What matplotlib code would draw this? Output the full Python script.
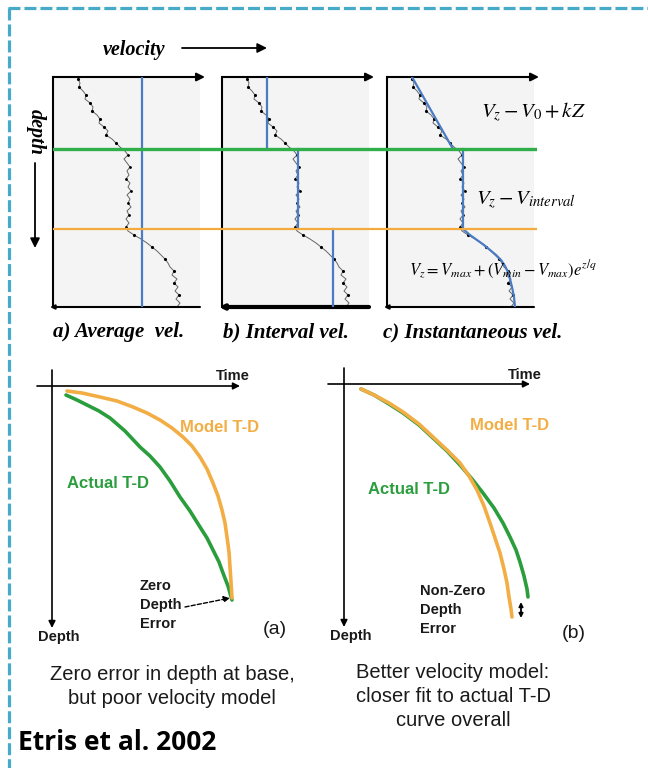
import matplotlib
matplotlib.use('Agg')
import matplotlib.pyplot as plt

plt.rcParams['lines.scale_dashes'] = False
plt.rcParams['mathtext.fontset'] = 'stix'

W, H = 648, 768

# ---------------- data: top panels (depth 0 = top .. 230 = base, velocity in panel units) ----
log_depth = [2, 6, 10, 14, 18, 22, 26, 30, 34, 38, 42, 46, 50, 54, 58, 62, 66, 70,
             74, 78, 82, 86, 90, 94, 98, 102, 106, 110, 114, 118, 122, 126, 130, 134, 138, 142, 146, 150,
             154, 158, 162, 166, 170, 174, 178, 182, 186, 190, 194, 198, 202, 206, 210, 214, 218, 222, 226, 230]
log_vel = [25, 27, 26, 30, 33, 32, 37, 40, 39, 44, 47, 46, 51, 55, 53, 59, 63, 67,
           72, 75, 71, 74, 77, 74, 76, 73, 77, 75, 78, 74, 77, 75, 78, 74, 76, 73, 76, 73,
           75, 81, 88, 94, 99, 104, 108, 112, 115, 117, 121, 119, 124, 121, 125, 122, 126, 123, 127, 124]
green_depth = 72
orange_depth = 152
base_depth = 230
avg_vel = 89
interval_vel = [45, 76, 111]
layer_tops = [0, 72, 152]
layer_bases = [72, 152, 230]
inst_lin_depth = [0, 72]
inst_lin_vel = [25, 66]
inst_const_vel = 76
inst_exp_depth = [152, 158, 163, 168, 173, 178, 183, 189, 195, 202, 210, 220, 230]
inst_exp_vel = [76, 83, 90, 97, 103, 109, 114, 118, 121, 123, 125, 127, 128]
panel_labels = ['a) Average  vel.', 'b) Interval vel.', 'c) Instantaneous vel.']
equations = [r'$V_z - V_0 + kZ$', r'$V_z - V_{interval}$',
             r'$V_z = V_{max} + \left(V_{min} - V_{max}\right)e^{z/q}$']

# ---------------- data: bottom time-depth charts (time right, depth down) ----------------
a_model_t = [15, 30, 48, 65, 81, 95, 108, 120, 131, 140, 148, 155, 161, 166, 170, 173, 175, 177, 178, 179, 180]
a_model_d = [5, 7, 11, 15, 21, 27, 34, 42, 51, 60, 71, 83, 97, 110, 124, 137, 151, 166, 181, 196, 212]
a_actual_t = [14, 25, 35, 47, 58, 73, 88, 98, 108, 118, 128, 138, 148, 155, 161, 167, 171, 176, 180]
a_actual_d = [9, 14, 19, 25, 32, 45, 61, 70, 81, 95, 111, 125, 141, 152, 164, 176, 187, 200, 214]
b_model_t = [17, 30, 45, 59, 75, 89, 103, 116, 125, 133, 140, 146, 151, 156, 160, 163, 165, 167, 168]
b_model_d = [5, 11, 19, 28, 40, 53, 66, 79, 92, 106, 122, 139, 154, 169, 185, 199, 213, 225, 233]
b_actual_t = [17, 30, 45, 59, 75, 89, 103, 116, 128, 139, 150, 159, 166, 172, 176, 180, 183, 184]
b_actual_d = [5, 11, 20, 29, 41, 54, 67, 81, 95, 109, 124, 139, 153, 166, 178, 192, 205, 213]
b_error_t = 177
b_error_d = [218, 234]

BLUE = '#4a7cc3'
GREEN = '#2fae4a'
ORANGE = '#f4aa3c'
CGREEN = '#2a9d3d'
CORANGE = '#f2ae45'
TEAL = '#45abc9'

fig = plt.figure(figsize=(W / 100, H / 100), dpi=100)


def add_ax(x0, y0, x1, y1, **kw):
    return fig.add_axes([x0 / W, 1 - y1 / H, (x1 - x0) / W, (y1 - y0) / H], **kw)


def ftext(x, y, s, **kw):
    fig.text(x / W, 1 - y / H, s, **kw)


# ---------------- background + dashed border ----------------
bg = add_ax(0, 0, W, H)
bg.set_xlim(0, W)
bg.set_ylim(H, 0)
bg.axis('off')
bg.plot([8, W], [8, 8], color=TEAL, lw=2.3, dashes=(8.6, 2.9), solid_capstyle='butt')
bg.plot([9, 9], [8, H], color=TEAL, lw=2.3, dashes=(8.6, 2.9))

# ---------------- top panels ----------------
lefts = [53, 222, 387]
PW = 147
serif = 'Liberation Serif'
for i, left in enumerate(lefts):
    ax = add_ax(left, 77, left + PW, 307)
    ax.set_xlim(0, PW)
    ax.set_ylim(base_depth, 0)
    ax.set_facecolor('#f4f4f4')
    for s in ax.spines.values():
        s.set_visible(False)
    ax.set_xticks([])
    ax.set_yticks([])
    ax.plot([0, 0], [0, base_depth], color='k', lw=1.5, clip_on=False)
    ax.annotate('', xy=(PW + 5, 0), xytext=(0, 0), annotation_clip=False,
                arrowprops=dict(arrowstyle='-|>', color='k', lw=1.5, mutation_scale=12,
                                shrinkA=0, shrinkB=0))
    ax.annotate('', xy=(-3, base_depth), xytext=(PW, base_depth), annotation_clip=False,
                arrowprops=dict(arrowstyle='-|>', color='k', lw=3.0 if i == 1 else 1.5,
                                mutation_scale=6, shrinkA=0, shrinkB=0))
    # well log
    ax.plot(log_vel, log_depth, color='#666666', lw=0.7, zorder=2)
    ax.plot(log_vel[:18:2], log_depth[:18:2], 'k.', ms=2.5, zorder=3)
    ax.plot(log_vel[19:38:3], log_depth[19:38:3], 'k.', ms=2, zorder=3)
    ax.plot(log_vel[39::3], log_depth[39::3], 'k.', ms=2.5, zorder=3)
    if i == 0:
        ax.plot([avg_vel, avg_vel], [0, base_depth], color=BLUE, lw=1.6, zorder=4)
    elif i == 1:
        for v, t, b in zip(interval_vel, layer_tops, layer_bases):
            ax.plot([v, v], [t, b], color=BLUE, lw=1.6, zorder=4)
    else:
        ax.plot(inst_lin_vel, inst_lin_depth, color=BLUE, lw=1.6, zorder=4)
        ax.plot([inst_const_vel, inst_const_vel], [green_depth, orange_depth], color=BLUE, lw=1.6, zorder=4)
        ax.plot(inst_exp_vel, inst_exp_depth, color=BLUE, lw=1.6, zorder=4)

ov = add_ax(53, 77, 537, 307)
ov.set_xlim(0, 1)
ov.set_ylim(base_depth, 0)
ov.axis('off')
ov.axhline(green_depth, color=GREEN, lw=2.4)
ov.axhline(orange_depth, color=ORANGE, lw=1.6)

# captions for top panels
cap_x = [53, 223, 383]
for x, s in zip(cap_x, panel_labels):
    ftext(x, 332, s, family=serif, style='italic', weight='bold', fontsize=15, ha='left', va='center')

ftext(134, 50, 'velocity', family=serif, style='italic', weight='bold', fontsize=14.5, ha='center', va='center')
bg.annotate('', xy=(267, 48), xytext=(182, 48),
            arrowprops=dict(arrowstyle='-|>', color='k', lw=1.3, mutation_scale=14, shrinkA=0, shrinkB=0))
ftext(36, 132, 'depth', family=serif, style='italic', weight='bold', fontsize=14.5, ha='center', va='center',
      rotation=-90)
bg.annotate('', xy=(35, 248), xytext=(35, 163),
            arrowprops=dict(arrowstyle='-|>', color='k', lw=1.3, mutation_scale=14, shrinkA=0, shrinkB=0))

ftext(533, 112, equations[0], fontsize=15, ha='center', va='center')
ftext(526, 200, equations[1], fontsize=15, ha='center', va='center')
ftext(503, 270, equations[2], fontsize=12, ha='center', va='center')

# ---------------- bottom charts ----------------
sans = 'Liberation Sans'


def td_chart(box, origin, t_axis, d_axis, model, actual):
    x0, y0, x1, y1 = box
    ox, oy = origin
    ax = add_ax(x0, y0, x1, y1)
    ax.set_xlim(x0 - ox, x1 - ox)
    ax.set_ylim(y1 - oy, y0 - oy)
    ax.axis('off')
    ax.annotate('', xy=(t_axis[1], 0), xytext=(t_axis[0], 0),
                arrowprops=dict(arrowstyle='-|>', color='k', lw=1.2, mutation_scale=10, shrinkA=0, shrinkB=0))
    ax.annotate('', xy=(0, d_axis[1]), xytext=(0, d_axis[0]),
                arrowprops=dict(arrowstyle='-|>', color='k', lw=1.2, mutation_scale=10, shrinkA=0, shrinkB=0))
    ax.plot(model[0], model[1], color=CORANGE, lw=2.6, solid_capstyle='round', zorder=3)
    ax.plot(actual[0], actual[1], color=CGREEN, lw=2.6, solid_capstyle='round', zorder=2)
    return ax


axa = td_chart((20, 355, 310, 650), (52, 386), (-15, 188), (-16, 242),
               (a_model_t, a_model_d), (a_actual_t, a_actual_d))
axa.annotate('', xy=(178, 212), xytext=(133, 221),
             arrowprops=dict(arrowstyle='-|>', color='k', lw=1.0, linestyle=(0, (3, 1.5)),
                             mutation_scale=9, shrinkA=0, shrinkB=0))

axb = td_chart((320, 355, 610, 650), (344, 384), (-16, 186), (-16, 243),
               (b_model_t, b_model_d), (b_actual_t, b_actual_d))
axb.annotate('', xy=(b_error_t, b_error_d[1]), xytext=(b_error_t, b_error_d[0]),
             arrowprops=dict(arrowstyle='<|-|>', color='k', lw=1.3, mutation_scale=6, shrinkA=0, shrinkB=0))

dark = '#1a1a1a'
# left chart labels
ftext(233, 376, 'Time', family=sans, weight='bold', fontsize=10.5, color=dark, ha='center', va='center')
ftext(59, 637, 'Depth', family=sans, weight='bold', fontsize=10.5, color=dark, ha='center', va='center')
ftext(180, 427, 'Model T-D', family=sans, weight='bold', fontsize=12, color=CORANGE, ha='left', va='center')
ftext(67, 483, 'Actual T-D', family=sans, weight='bold', fontsize=12, color=CGREEN, ha='left', va='center')
for y, s in zip([586, 605, 624], ['Zero', 'Depth', 'Error']):
    ftext(140, y, s, family=sans, weight='bold', fontsize=10.5, color=dark, ha='left', va='center')
ftext(275, 629, '(a)', family=sans, fontsize=14, color=dark, ha='center', va='center')

# right chart labels
ftext(525, 375, 'Time', family=sans, weight='bold', fontsize=10.5, color=dark, ha='center', va='center')
ftext(351, 636, 'Depth', family=sans, weight='bold', fontsize=10.5, color=dark, ha='center', va='center')
ftext(470, 426, 'Model T-D', family=sans, weight='bold', fontsize=12, color=CORANGE, ha='left', va='center')
ftext(368, 490, 'Actual T-D', family=sans, weight='bold', fontsize=12, color=CGREEN, ha='left', va='center')
for y, s in zip([591, 610, 629], ['Non-Zero', 'Depth', 'Error']):
    ftext(420, y, s, family=sans, weight='bold', fontsize=10.5, color=dark, ha='left', va='center')
ftext(574, 633, '(b)', family=sans, fontsize=14, color=dark, ha='center', va='center')

# bottom captions
for y, s in zip([675, 699], ['Zero error in depth at base,', 'but poor velocity model']):
    ftext(172, y, s, family=sans, fontsize=14.5, color=dark, ha='center', va='center')
for y, s in zip([673, 697, 721], ['Better velocity model:', 'closer fit to actual T-D', 'curve overall']):
    ftext(453, y, s, family=sans, fontsize=14.5, color=dark, ha='center', va='center')

ftext(18, 742, 'Etris et al. 2002', family=['Liberation Sans Narrow', 'Open Sans'], weight='bold',
      fontsize=19, color='k', ha='left', va='center')

fig.savefig('out.png', dpi=100)
